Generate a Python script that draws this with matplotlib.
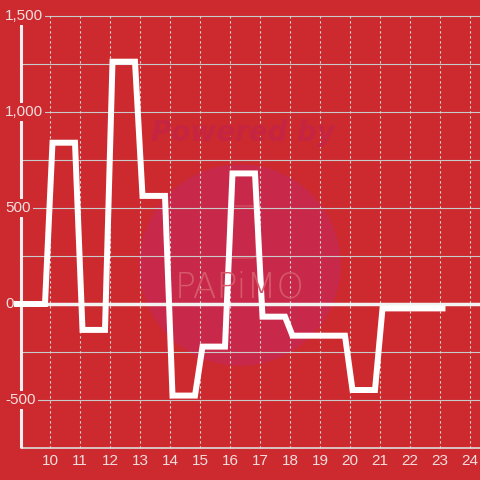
import matplotlib.pyplot as plt
import matplotlib.transforms as mtransforms
from matplotlib.patches import Circle, FancyBboxPatch

plt.rcParams['font.family'] = ['Liberation Sans', 'DejaVu Sans']

# hourly values
hours = list(range(9, 24))
values = [0, 840, -135, 1262, 563, -477, -222, 680, -66, -165, -165, -448, -23, -23, -23]
x_ticks = list(range(10, 25))
y_ticks = [1500, 1000, 500, 0, -500]
y_tick_labels = ['1,500', '1,000', '500', '0', '-500']
grid_y = [1500, 1250, 1000, 750, 500, 250, -250, -500]

bg = '#cc2a2f'
txt = '#f3dede'

# each hour is a flat run from :05 to :50, joined by sloped transitions
xs, ys = [], []
for i, (h, v) in enumerate(zip(hours, values)):
    start = h - 0.1 if i == 0 else h + 1 / 12
    xs.append(start)
    ys.append(v)
    if i < len(hours) - 1:
        xs.append(h + 5 / 6)
        ys.append(v)

fig = plt.figure(figsize=(4.8, 4.8), dpi=100, facecolor=bg)
ax = fig.add_axes([0, 0, 1, 1])
ax.set_facecolor(bg)
ax.set_xlim(8 + 1 / 3, 24 + 1 / 3)
ax.set_ylim(-916.7, 1583.3)
ax.axis('off')

# watermark
ax.add_patch(Circle((0.5, 1 - 265 / 480), 100 / 480, transform=ax.transAxes,
                    color='#c8294a', zorder=0.5))
ax.add_patch(FancyBboxPatch((228 / 480, 1 - 258 / 480), 28 / 480, 52 / 480,
                            boxstyle='round,pad=0,rounding_size=0.01',
                            transform=ax.transAxes, fill=False,
                            edgecolor='#d2485d', lw=1.2, zorder=0.6))
fig.text(243 / 480, 1 - 133 / 480, 'Powered by', ha='center', va='center',
         fontsize=20, fontweight='bold', fontstyle='italic',
         family='DejaVu Sans', color='#c62542', zorder=0.6)
fig.text(240 / 480, 1 - 287 / 480, 'PAPiMO', ha='center', va='center',
         fontsize=25, fontweight='light', family='DejaVu Sans',
         color='#d6596a', zorder=0.6)

# grid
for gy in grid_y:
    ax.axhline(gy, xmin=21 / 480, xmax=1, color='#c9c9c9', lw=0.8, zorder=1)
ax.axhline(0, xmin=21 / 480, xmax=1, color='#f2f2f2', lw=2.5, zorder=1.5)
ax.vlines(x_ticks, -750, 1500, colors='#dcdcdc', linestyles=(0, (2, 2.5)),
          lw=0.8, zorder=1)
ax.hlines(-750, 9.03, 24.4, colors='#dddddd', lw=1.2, zorder=2)
ax.vlines(9.03, -750, 1500, colors='#f4eeee', lw=2.2, zorder=2)

ax.plot(xs, ys, color='white', lw=4.3, solid_joinstyle='miter',
        solid_capstyle='projecting', zorder=5)

# tick labels
trans = mtransforms.blended_transform_factory(ax.transAxes, ax.transData)
for yv, lab in zip(y_ticks, y_tick_labels):
    ax.text(5 / 480, yv, lab, transform=trans, ha='left', va='center',
            fontsize=11, color=txt, zorder=4,
            bbox=dict(facecolor=bg, edgecolor='none', pad=1.5))
for xv in x_ticks:
    ax.text(xv, -818, str(xv), ha='center', va='center', fontsize=11,
            color=txt, zorder=4)

fig.savefig('out.png', dpi=100, facecolor=bg)
